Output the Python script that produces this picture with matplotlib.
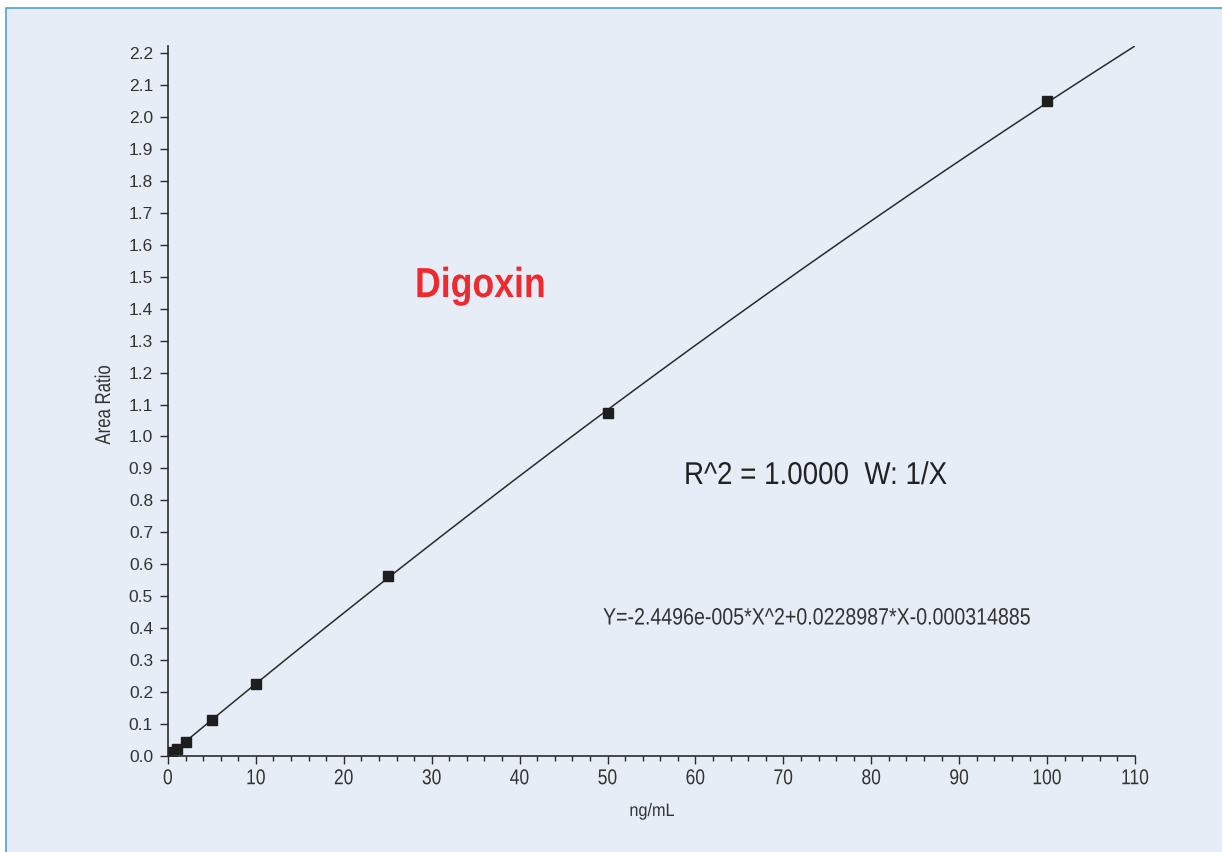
import numpy as np
import matplotlib
matplotlib.use("Agg")
import matplotlib.pyplot as plt
from matplotlib.patches import Rectangle
from matplotlib.patheffects import AbstractPathEffect
from matplotlib.transforms import Affine2D
from matplotlib.ticker import MultipleLocator

# Kalibrasyon noktalari (ng/mL -> alan orani)
conc = [0.5, 1, 2, 5, 10, 25, 50, 100]
area_ratio = [0.011, 0.022, 0.044, 0.114, 0.226, 0.562, 1.075, 2.050]

# Grafikte yazan uydurma denklem katsayilari (X^2, X, sabit)
fit_coef = [-2.4496e-005, 0.0228987, -0.000314885]
fit_range = [0.5, 110]

y_ticks = [round(0.1 * i, 1) for i in range(23)]
x_ticks = list(range(0, 111, 10))

plt.rcParams['font.family'] = ['Liberation Sans', 'DejaVu Sans']

BG = '#e6edf6'
INK = '#2b2b2b'
W, H = 1222, 852


class Narrow(AbstractPathEffect):
    # yaziyi yatayda sikistirir (dar font yok, onun yerine)
    def __init__(self, sx=0.85, anchor=0.0):
        super().__init__()
        self.sx = sx
        self.anchor = anchor

    def draw_path(self, renderer, gc, tpath, affine, rgbFace=None):
        v = tpath.vertices
        pivot = 0.0
        if len(v):
            x0, x1 = v[:, 0].min(), v[:, 0].max()
            pivot = x0 + self.anchor * (x1 - x0)
        t = Affine2D().translate(-pivot, 0).scale(self.sx, 1).translate(pivot, 0) + affine
        renderer.draw_path(gc, tpath, t, rgbFace)


def px(x, y):
    return x / W, 1 - y / H


fig = plt.figure(figsize=(W / 100, H / 100), dpi=100, facecolor='white')
# mavi cerceveli panel
fig.patches.append(Rectangle(px(6, H + 10), 1.1, (H + 2) / H,
                             transform=fig.transFigure, facecolor=BG,
                             edgecolor='#4d9fd8', linewidth=1.2, zorder=-10))

ax = fig.add_axes([168 / W, 1 - 756 / H, (1135 - 168) / W, (756 - 46) / H])
ax.set_facecolor('none')
ax.set_zorder(5)

xs = np.linspace(fit_range[0], fit_range[1], 400)
ax.plot(xs, np.polyval(fit_coef, xs), color=INK, linewidth=1.1)
ax.plot(conc, area_ratio, 's', color='#1e1e1e', markersize=6.5, linestyle='none')

ax.set_xlim(0, 110)
ax.set_ylim(0, 2.222)
ax.set_xticks(x_ticks)
ax.set_yticks(y_ticks)
ax.set_yticklabels([f"{v:.1f}" for v in y_ticks])
ax.xaxis.set_minor_locator(MultipleLocator(2))

for s in ['top', 'right']:
    ax.spines[s].set_visible(False)
for s in ['left', 'bottom']:
    ax.spines[s].set_color(INK)
    ax.spines[s].set_linewidth(1.2)

ax.tick_params(axis='both', which='major', length=5.8, width=1.0, color=INK,
               labelcolor='#333333')
ax.tick_params(axis='y', labelsize=12.5, pad=5)
ax.tick_params(axis='x', labelsize=15.5, pad=3)
ax.tick_params(axis='x', which='minor', length=3.3, width=1.0, color=INK)
for lab in ax.get_xticklabels():
    lab.set_path_effects([Narrow(0.81, 0.5)])

ax.set_xlabel('ng/mL', fontsize=13, color='#333333')
ax.xaxis.set_label_coords(0.5005, (756 - 816) / 710)
ax.xaxis.label.set_va('baseline')
ax.xaxis.label.set_path_effects([Narrow(0.9, 0.5)])

ax.set_ylabel('Area Ratio', fontsize=15.5, color='#333333')
ax.yaxis.set_label_coords((104.5 - 168) / 967, (756 - 405) / 710)
ax.yaxis.label.set_va('center')
ax.yaxis.label.set_path_effects([Narrow(0.78, 0.5)])

fig.text(*px(415, 297), 'Digoxin', color='#ee2a2e', fontsize=30.2,
         fontweight='bold', va='baseline', ha='left', path_effects=[Narrow(0.85)])
fig.text(*px(684, 484), 'R^2 = 1.0000  W: 1/X', color='#222222', fontsize=22.7,
         va='baseline', ha='left', path_effects=[Narrow(0.88)])
fig.text(*px(603, 624.5), 'Y=-2.4496e-005*X^2+0.0228987*X-0.000314885',
         color='#333333', fontsize=17, va='baseline', ha='left',
         path_effects=[Narrow(0.83)])

fig.savefig('out.png', dpi=100, facecolor=fig.get_facecolor())
